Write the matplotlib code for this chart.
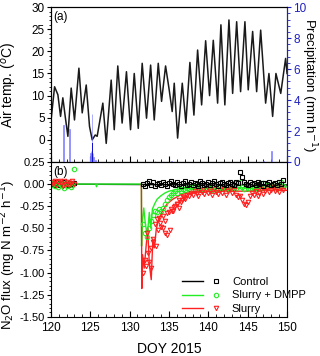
import numpy as np
import matplotlib
matplotlib.use("Agg")
import matplotlib.pyplot as plt
from matplotlib.lines import Line2D
from matplotlib.legend_handler import HandlerTuple
from matplotlib.ticker import MultipleLocator, FormatStrFormatter

plt.rcParams["font.family"] = ["Liberation Sans", "DejaVu Sans"]

# ---------- panel (a): air temperature (daily min / max turning points) ----------
temp_day = [120.0, 120.47, 120.89, 121.23, 121.52, 121.82, 122.16, 122.58, 123.0, 123.56,
            123.98, 124.49, 124.91, 125.25, 125.63, 125.88, 126.6, 127.03, 127.66, 128.05,
            128.5, 129.05, 129.6, 130.12, 130.59, 131.1, 131.6, 132.15, 132.67, 133.13,
            133.64, 134.06, 134.57, 135.03, 135.41, 135.67, 136.1, 136.69, 137.15, 137.66,
            138.17, 138.64, 139.15, 139.66, 140.16, 140.63, 141.18, 141.6, 142.1, 142.62,
            143.09, 143.6, 144.1, 144.65, 145.07, 145.63, 146.14, 146.65, 146.98, 147.28,
            147.7, 148.17, 148.59, 149.2, 149.82, 150.0]
temp_val = [4.1, 12.0, 10.2, 5.3, 9.5, 5.3, 0.8, 11.7, 4.5, 16.2,
            6.1, 12.4, 3.0, 0.0, 1.1, 0.8, 8.3, -0.8, 13.5, 2.3,
            16.7, 3.8, 15.4, 2.3, 15.0, 2.6, 17.3, 4.9, 16.9, 4.5,
            17.3, 8.7, 16.7, 11.3, 6.4, 12.8, 0.4, 12.8, 3.8, 17.5,
            5.6, 20.3, 7.9, 22.4, 10.0, 22.5, 8.3, 26.0, 7.9, 27.1,
            10.5, 26.7, 10.9, 26.7, 11.3, 24.5, 10.9, 24.8, 16.2, 8.3,
            15.0, 5.3, 15.0, 10.5, 18.4, 15.0]

# precipitation events (mm h-1)
rain_day = [121.57, 122.35, 124.95, 125.0, 125.05, 125.1, 125.15, 125.2, 125.25,
            125.35, 125.4, 125.7, 133.2, 135.3, 147.0, 148.05]
rain_mm = [2.4, 2.1, 0.2, 0.3, 0.6, 0.7, 0.5, 0.9, 3.1,
           0.6, 0.3, 0.1, 0.05, 0.05, 0.05, 0.7]
rain_dark_day = [125.3]
rain_dark_mm = [1.2]

# ---------- panel (b): N2O flux ----------
# measurements before slurry application
t_pre = np.arange(120.1, 123.0, 0.2)
ctrl_pre = [0.00, 0.01, -0.01, 0.02, 0.00, -0.01, 0.01, 0.00, 0.02, -0.01, 0.00, 0.01, -0.01, 0.00, 0.01]
dmpp_pre = [-0.01, 0.01, -0.02, 0.00, -0.03, 0.01, -0.01, 0.00, -0.04, 0.01, -0.02, 0.00, -0.03, -0.01, 0.17]
slurry_pre = [0.02, 0.00, 0.03, -0.01, 0.02, 0.04, 0.01, -0.02, 0.03, 0.00, 0.02, -0.01, 0.01, 0.03, 0.00]

# measurements after application (every 6 h)
t_post = np.arange(131.75, 149.6, 0.25)
ctrl_post = [0.00, -0.02, 0.01, 0.03, -0.01, 0.02, -0.02, 0.00,
             0.01, -0.01, 0.02, 0.00, -0.02, 0.01, 0.03, 0.00,
             -0.01, 0.02, 0.00, -0.02, 0.01, 0.03, -0.01, 0.00,
             0.02, -0.01, 0.01, 0.00, -0.02, 0.03, 0.01, -0.01,
             0.00, 0.02, -0.01, 0.01, 0.03, 0.00, -0.02, 0.01,
             0.02, 0.00, -0.01, 0.01, 0.02, 0.00, -0.01, 0.02,
             0.01, 0.14, 0.08, 0.02, 0.00, -0.01, 0.02, 0.00,
             0.01, -0.01, 0.02, 0.00, 0.01, -0.02, 0.01, 0.00,
             0.02, -0.01, 0.00, 0.01, -0.01, 0.02, 0.00, 0.05]
dmpp_post = [-0.45, -0.55, -0.60, -0.50, -0.42, -0.35, -0.30, -0.32,
             -0.28, -0.30, -0.27, -0.22, -0.18, -0.15, -0.12, -0.10,
             -0.08, -0.10, -0.06, -0.08, -0.05, -0.07, -0.04, -0.06,
             -0.03, -0.05, -0.02, -0.06, -0.04, -0.01, -0.05, -0.03,
             -0.06, -0.02, -0.04, -0.07, -0.03, 0.00, -0.05, -0.02,
             -0.04, -0.06, -0.01, -0.03, -0.05, -0.02, 0.01, -0.04,
             -0.02, 0.02, -0.03, -0.05, -0.01, -0.04, -0.06, -0.02,
             -0.03, 0.00, -0.05, -0.02, -0.04, 0.01, -0.03, -0.01,
             -0.04, -0.02, 0.00, -0.03, -0.05, -0.01, 0.02, -0.02]
slurry_post = [-1.00, -0.86, -0.55, -0.88, -0.72, -0.65, -0.45, -0.40,
               -0.38, -0.48, -0.50, -0.55, -0.58, -0.32, -0.28, -0.30,
               -0.25, -0.22, -0.18, -0.20, -0.15, -0.17, -0.12, -0.14,
               -0.10, -0.12, -0.08, -0.10, -0.13, -0.07, -0.09, -0.11,
               -0.06, -0.10, -0.08, -0.12, -0.05, -0.09, -0.11, -0.07,
               -0.10, -0.06, -0.12, -0.08, -0.05, -0.10, -0.07, -0.12,
               -0.15, -0.13, -0.18, -0.22, -0.24, -0.20, -0.14, -0.10,
               -0.12, -0.08, -0.14, -0.10, -0.06, -0.11, -0.08, -0.04,
               -0.09, -0.07, -0.03, -0.08, -0.05, -0.09, -0.04, -0.07]
# second slurry chamber, dense early period
t_slurry2 = np.arange(132.1, 137.0, 0.3)
slurry2 = [-0.92, -0.78, -0.95, -0.62, -0.70, -0.52, -0.44, -0.36, -0.42, -0.33,
           -0.52, -0.30, -0.26, -0.22, -0.27, -0.18, -0.16]

# modelled fluxes (lines)
ctrl_line_day = [120.0, 132.0, 140.0, 150.0]
ctrl_line = [0.0, -0.005, -0.01, -0.01]
dmpp_line_day = [120.0, 125.7, 125.8, 125.9, 131.5, 131.52, 131.6, 131.8, 132.0, 132.25,
                 132.5, 132.7, 132.9, 133.2, 133.5, 134.0, 134.5, 135.0, 136.0, 137.0,
                 138.0, 140.0, 142.0, 144.0, 146.0, 148.0, 150.0]
dmpp_line = [0.0, 0.0, -0.03, 0.0, 0.0, -0.7, -0.45, -0.27, -0.45, -0.58,
             -0.32, -0.5, -0.28, -0.22, -0.17, -0.13, -0.10, -0.08, -0.06, -0.05,
             -0.05, -0.04, -0.05, -0.04, -0.05, -0.04, -0.03]
slurry_line_day = [131.5, 131.55, 131.65, 131.85, 132.05, 132.3, 132.5, 132.75, 132.95, 133.15,
                   133.4, 133.7, 134.2, 134.8, 135.5, 136.5, 137.5, 139.0, 141.0, 143.0,
                   145.0, 147.0, 150.0]
slurry_line = [0.0, -1.18, -0.8, -0.95, -0.75, -0.5, -0.9, -1.08, -0.62, -0.72,
               -0.5, -0.4, -0.3, -0.22, -0.17, -0.12, -0.10, -0.09, -0.08, -0.08,
               -0.08, -0.07, -0.07]

green = "#22ee22"
red = "#ff2020"
blue = "#2020c0"

fig = plt.figure(figsize=(3.2, 3.56), dpi=100)
ax1 = fig.add_axes([0.159, 0.545, 0.738, 0.435])
ax3 = fig.add_axes([0.159, 0.110, 0.738, 0.435])

# ---- (a) ----
ax1.plot(temp_day, temp_val, color="#1a1a1a", lw=1.1)
ax1.set_xlim(120, 150)
ax1.set_ylim(-5, 30)
ax1.set_yticks([0, 5, 10, 15, 20, 25, 30])
ax1.yaxis.set_minor_locator(MultipleLocator(1))
ax1.xaxis.set_major_locator(MultipleLocator(5))
ax1.xaxis.set_minor_locator(MultipleLocator(1))
ax1.tick_params(axis="x", which="both", direction="in", labelbottom=False)
ax1.tick_params(axis="x", which="major", length=4)
ax1.tick_params(axis="x", which="minor", length=2)
ax1.tick_params(axis="y", which="major", direction="out", length=3, pad=1.5, labelsize=8.5)
ax1.tick_params(axis="y", which="minor", direction="out", length=1.8)
ax1.set_ylabel("Air temp. ($^{o}$C)", fontsize=10)
ax1.yaxis.set_label_coords(-0.135, 0.5)
ax1.text(0.01, 0.975, "(a)", transform=ax1.transAxes, fontsize=8.5, va="top", ha="left")

ax2 = ax1.twinx()
ax2.bar(rain_day, rain_mm, width=0.07, color="#8a8aff", edgecolor="#7070ff", lw=0.4)
ax2.bar(rain_dark_day, rain_dark_mm, width=0.05, color="#1010d0", lw=0)
ax2.set_ylim(0, 10)
ax2.set_yticks([0, 2, 4, 6, 8, 10])
ax2.yaxis.set_minor_locator(MultipleLocator(0.4))
ax2.tick_params(axis="y", which="major", colors=blue, direction="out", length=3, pad=1.5, labelsize=8.5)
ax2.tick_params(axis="y", which="minor", colors=blue, direction="out", length=1.8)
ax2.spines["right"].set_color(blue)
ax2.set_ylabel("Precipitation (mm h$^{-1}$)", fontsize=9.5, rotation=270)
ax2.yaxis.set_label_coords(1.135, 0.5)

# ---- (b) ----
ax3.plot(ctrl_line_day, ctrl_line, color="k", lw=1.0)
ax3.plot(dmpp_line_day, dmpp_line, color=green, lw=1.0)
ax3.plot(slurry_line_day, slurry_line, color=red, lw=1.0)

mk = dict(ls="none", mfc="none", ms=3.2, mew=0.8)
ax3.plot(t_pre, ctrl_pre, marker="s", mec="k", **mk)
ax3.plot(t_pre, dmpp_pre, marker="o", mec=green, **mk)
ax3.plot(t_pre, slurry_pre, marker="v", mec=red, **mk)
ax3.plot(t_post, dmpp_post, marker="o", mec=green, **mk)
ax3.plot(t_post, slurry_post, marker="v", mec=red, **mk)
ax3.plot(t_slurry2, slurry2, marker="v", mec=red, **mk)
ax3.plot(t_post, ctrl_post, marker="s", mec="k", **mk)

ax3.set_xlim(120, 150)
ax3.set_ylim(-1.5, 0.25)
ax3.set_yticks(np.arange(-1.5, 0.26, 0.25))
ax3.yaxis.set_major_formatter(FormatStrFormatter("%.2f"))
ax3.yaxis.set_minor_locator(MultipleLocator(0.05))
ax3.xaxis.set_major_locator(MultipleLocator(5))
ax3.xaxis.set_minor_locator(MultipleLocator(1))
ax3.tick_params(axis="x", which="major", direction="in", length=4, labelsize=8.5)
ax3.tick_params(axis="x", which="minor", direction="in", length=2)
ax3.tick_params(axis="y", which="major", direction="out", length=3, pad=1.5, labelsize=8)
ax3.tick_params(axis="y", which="minor", direction="out", length=1.8)
ax3.set_ylabel("N$_2$O flux (mg N m$^{-2}$ h$^{-1}$)", fontsize=9.5)
ax3.yaxis.set_label_coords(-0.138, 0.4)
ax3.set_xlabel("DOY 2015", fontsize=10)
ax3.xaxis.set_label_coords(0.5, -0.16)
ax3.text(0.01, 0.975, "(b)", transform=ax3.transAxes, fontsize=8.5, va="top", ha="left")

handles = []
for c, m in [("k", "s"), (green, "o"), (red, "v")]:
    ln = Line2D([], [], color=c, lw=1.0)
    pt = Line2D([], [], ls="none", marker=m, mfc="none", mec=c, ms=3.2, mew=0.8)
    handles.append((ln, pt))
ax3.legend(handles, ["Control", "Slurry + DMPP", "Slurry"],
           handler_map={tuple: HandlerTuple(ndivide=None, pad=0.3)},
           loc="upper left", bbox_to_anchor=(0.555, 0.258), frameon=False,
           fontsize=8, handlelength=4.0, handletextpad=0.5, labelspacing=0.32,
           borderpad=0, borderaxespad=0)

fig.savefig("out.png", dpi=100)
